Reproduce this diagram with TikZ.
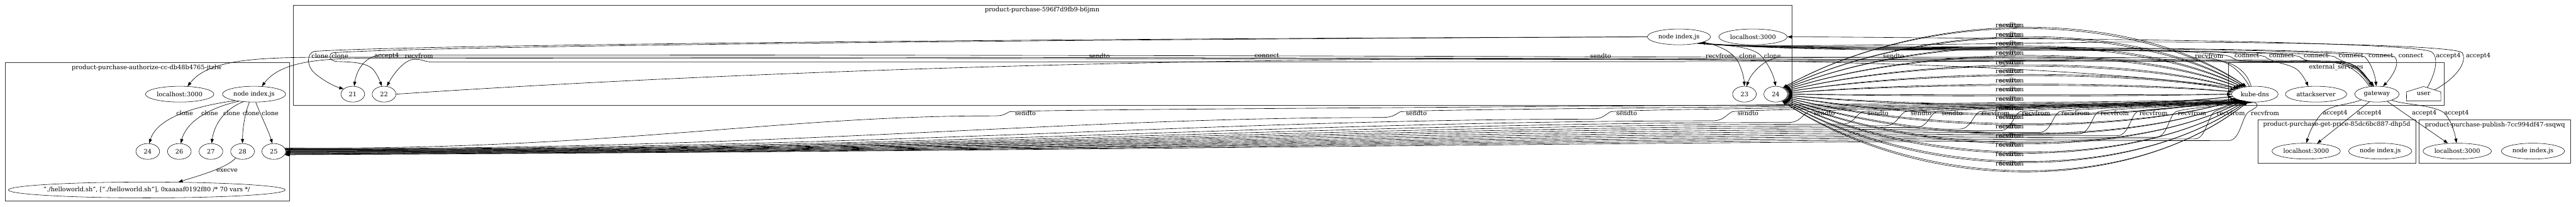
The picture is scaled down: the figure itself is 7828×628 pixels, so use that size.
\documentclass[tikz,border=0pt]{standalone}
\usepackage{fontspec}
\setmainfont{DejaVu Serif}
\usetikzlibrary{arrows.meta,shapes.geometric}
\begin{document}
\begin{tikzpicture}[x=0.75pt,y=-0.75pt,
  every node/.style={font=\fontsize{14}{16}\selectfont},
  ell/.style={draw, ellipse, inner sep=0pt, minimum height=36pt, line width=0.8pt},
  num/.style={ell, minimum width=54pt},
  lbl/.style={inner sep=0pt},
  cl/.style={draw=black!80, line width=1pt},
  fw/.style={-{Triangle[length=10pt,width=7pt]}, line width=0.9pt},
  bw/.style={{Triangle[length=10pt,width=7pt]}-, line width=0.9pt},
  ln/.style={line width=0.9pt}]
\useasboundingbox (0,0) rectangle (7828,628);
\fill[white] (0,0) rectangle (7828,628);
% clusters
\draw[cl] (16,190) rectangle (879,611);
\node[lbl] (tauth) at (446,206) {product-purchase-authorize-cc-db48b4765-jtzlw};
\draw[cl] (891,16) rectangle (5445,320);
\node[lbl] (tmain) at (3167,30) {product-purchase-596f7d9fb9-b6jmn};
\draw[cl] (6771,190) rectangle (7427,320);
\node[lbl] (text) at (7099,205) {external\_services};
\draw[cl] (6862,364) rectangle (7341,495);
\node[lbl] (tgp) at (7101,379) {product-purchase-get-price-85dc6bc887-dhp5d};
\draw[cl] (7351,364) rectangle (7811,495);
\node[lbl] (tpb) at (7582,379) {product-purchase-publish-7cc994df47-ssqwq};
% nodes: authorize
\node[ell, minimum width=156pt] (la_auth) at (546,286) {localhost:3000};
\node[ell, minimum width=144pt] (nij_auth) at (772,286) {node index.js};
\node[num] (a24) at (449,460) {24};
\node[num] (a26) at (545,460) {26};
\node[num] (a27) at (641,460) {27};
\node[num] (a28) at (737,460) {28};
\node[num] (a25) at (832,460) {25};
\node[ell, minimum width=631pt] (hw) at (446,577) {\makebox[400pt]{"./helloworld.sh", ["./helloworld.sh"], 0xaaaaf0192f80 /* 70 vars */}};
% nodes: main
\node[num] (m21) at (1072,286) {21};
\node[num] (m22) at (1167,286) {22};
\node[num] (m23) at (5301,286) {23};
\node[num] (m24) at (5396,286) {24};
\node[ell, minimum width=144pt] (nij_main) at (5102,112) {node index.js};
\node[ell, minimum width=156pt] (la_main) at (5327,112) {localhost:3000};
% nodes: external
\node[ell, minimum width=106pt] (kd) at (6852,286) {kube-dns};
\node[ell, minimum width=140pt] (as) at (7038,286) {attackserver};
\node[ell, minimum width=101pt] (gw) at (7223,286) {gateway};
\node[lbl, minimum width=78pt, minimum height=32.25pt] (u) at (7365,284.5) {user};
\draw[line width=0.8pt] (u.south west) -- (u.south east) -- (7417,279) -- (u.north) -- (7313,279) -- cycle;
\coordinate (uA) at (7376,266.5);
\coordinate (uB) at (7398,273);
% nodes: get-price / publish
\node[ell, minimum width=156pt] (gp_la) at (7008,459) {localhost:3000};
\node[ell, minimum width=144pt] (gp_nij) at (7233,459) {node index.js};
\node[ell, minimum width=156pt] (pb_la) at (7467,459) {localhost:3000};
\node[ell, minimum width=144pt] (pb_nij) at (7697,459) {node index.js};

% authorize clones
\draw[fw] (nij_auth.199) .. controls (620,318) and (480,350) .. (a24.80);
\draw[fw] (nij_auth.205) .. controls (625,330) and (565,375) .. (a26.80);
\draw[fw] (nij_auth.215) .. controls (675,335) and (650,385) .. (a27.85);
\draw[fw] (nij_auth.240) .. controls (745,340) and (737,390) .. (a28.north);
\draw[fw] (nij_auth.282) .. controls (790,345) and (815,395) .. (a25.100);
\draw[fw] (a28.224) .. controls (690,510) and (600,535) .. (hw.14);
\node[lbl] (lc1) at (561,344) {clone};
\node[lbl] (lc2) at (637,344) {clone};
\node[lbl] (lc3) at (704,344) {clone};
\node[lbl] (lc4) at (763,344) {clone};
\node[lbl] (lc5) at (821,344) {clone};
\node[lbl] (lex) at (690,518) {execve};

% main clones
\draw[fw] (nij_main.west) .. controls (3000,118) and (1200,138) .. (955,156) .. controls (932,162) and (930,200) .. (958,224) .. controls (985,246) and (1015,262) .. (m21.150);
\draw[fw] (nij_main.west) .. controls (3000,121) and (1300,141) .. (1012,160) .. controls (998,163) and (998,186) .. (1025,187) .. controls (1070,188) and (1115,190) .. (1135,212) .. controls (1150,232) and (1156,250) .. (m22.105);
\draw[fw] (nij_main.-12) .. controls (5230,140) and (5268,160) .. (5283,190) .. controls (5295,215) and (5300,240) .. (m23.north);
\draw[fw] (nij_main.-20) .. controls (5250,138) and (5320,140) .. (5350,168) .. controls (5375,195) and (5390,230) .. (m24.north);

% long band edges
\draw[fw] (gw.125) .. controls (7195,235) and (7170,192) .. (7110,186) .. controls (6600,176) and (3500,166) .. (1160,167) .. controls (1115,168) and (1085,205) .. (m21.80);
\draw[fw] (gw.130) .. controls (7190,235) and (7160,194) .. (7100,188) .. controls (6500,180) and (3000,172) .. (982,174) .. controls (760,174) and (630,185) .. (la_auth.45);
\draw[fw] (gw.135) .. controls (7185,238) and (7150,196) .. (7090,190) .. controls (6400,182) and (3000,176) .. (1107,177) .. controls (960,178) and (850,190) .. (nij_auth.45);
\draw[fw] (kd.115) .. controls (6830,222) and (6790,182) .. (6720,184) .. controls (6400,188) and (3000,188) .. (1310,188) .. controls (1290,188) and (1282,179) .. (1258,180) .. controls (1228,182) and (1195,225) .. (m22.70);
\draw[fw] (kd.125) .. controls (6815,225) and (6775,178) .. (6700,176) .. controls (6300,174) and (5700,173) .. (5410,174) .. controls (5365,176) and (5322,220) .. (m23.75);
\draw[fw] (m22.east) .. controls (3000,165) and (5800,130) .. (kd.160);
% user
\draw[fw] (uA) .. controls (7405,215) and (7410,170) .. (7388,157) .. controls (7340,136) and (6800,124) .. (6400,120) .. controls (6000,116) and (5600,112) .. (la_main.east);
\draw[fw] (uB) .. controls (7460,240) and (7500,190) .. (7482,160) .. controls (7455,135) and (6800,126) .. (6400,128) .. controls (6000,134) and (5500,140) .. (5300,138) .. controls (5240,137) and (5195,133) .. (nij_main.-15);
% connects
\draw[fw] (nij_main.-18) .. controls (5280,142) and (5500,145) .. (5800,146) .. controls (6300,147) and (6703,150) .. (6778,172) .. controls (6800,190) and (6830,186) .. (6900,186) .. controls (7060,186) and (7140,186) .. (7168,212) .. controls (7186,230) and (7200,247) .. (gw.118);
\draw[fw] (nij_main.-18) .. controls (5280,142) and (5500,147) .. (5800,148) .. controls (6300,149) and (6808,150) .. (6883,172) .. controls (6905,192) and (6960,192) .. (6985,215) .. controls (7000,232) and (7008,248) .. (as.135);
\draw[fw] (nij_main.-18) .. controls (5280,142) and (5500,149) .. (5800,150) .. controls (6300,151) and (6913,152) .. (6988,172) .. controls (7010,190) and (7040,187) .. (7090,187) .. controls (7140,187) and (7160,200) .. (7172,215) .. controls (7188,232) and (7203,248) .. (gw.114);
\draw[fw] (nij_main.-18) .. controls (5280,142) and (5500,151) .. (5800,152) .. controls (6300,153) and (7019,154) .. (7094,172) .. controls (7118,190) and (7145,190) .. (7162,205) .. controls (7182,222) and (7200,245) .. (gw.110);
\draw[fw] (nij_main.-18) .. controls (5280,142) and (5500,143) .. (5800,144) .. controls (6300,145) and (7110,150) .. (7185,172) .. controls (7205,190) and (7218,230) .. (gw.95);
\draw[fw] (nij_main.-18) .. controls (5280,142) and (5500,141) .. (5800,142) .. controls (6300,143) and (7201,150) .. (7276,172) .. controls (7296,190) and (7270,232) .. (gw.52);
% gateway accept4
\draw[fw] (gw.200) .. controls (7140,318) and (7080,318) .. (7055,345) .. controls (7030,372) and (7015,410) .. (gp_la.88);
\draw[fw] (gw.225) -- (gp_la.35);
\draw[fw] (gw.-35) -- (pb_la.140);
\draw[fw] (gw.-22) .. controls (7300,318) and (7400,318) .. (7430,345) .. controls (7450,370) and (7460,405) .. (pb_la.95);
\node[lbl] (ga1) at (7096,344) {accept4};
\node[lbl] (ga2) at (7200,344) {accept4};
\node[lbl] (ga3) at (7367,344) {accept4};
\node[lbl] (ga4) at (7465,344) {accept4};

% band labels
\node[lbl] (b1) at (972,169) {clone};
\node[lbl] (b2) at (1033,169) {clone};
\node[lbl] (b3) at (1175,169) {accept4};
\node[lbl] (b4) at (1273,169) {recvfrom};
\node[lbl] (b5) at (3341,169) {sendto};
\node[lbl] (b6) at (3850,169) {connect};
\node[lbl] (b7) at (4864,169) {sendto};
\node[lbl] (b8) at (5226,169) {recvfrom};
\node[lbl] (b9) at (5311,169) {clone};
\node[lbl] (b10) at (5386,169) {clone};
\node[lbl] (b11) at (5754,169) {sendto};
\node[lbl] (b12) at (6713,169) {recvfrom};
\node[lbl] (b13) at (6828,169) {connect};
\node[lbl] (b14) at (6933,169) {connect};
\node[lbl] (b15) at (7038,169) {connect};
\node[lbl] (b16) at (7144,169) {connect};
\node[lbl] (b17) at (7235,169) {connect};
\node[lbl] (b18) at (7326,169) {connect};
\node[lbl] (b19) at (7440,169) {accept4};
\node[lbl] (b20) at (7531,169) {accept4};

% fan 24 <-> kube-dns
\foreach \j in {0,...,15} {
  \pgfmathsetmacro\yl{76+28*\j}
  \pgfmathsetmacro\ye{\yl+13+3*(\j>6)}
  \pgfmathsetmacro\cy{(\ye-71.5)/0.75}
  \pgfmathsetmacro\cz{\cy+5}
  \pgfmathtruncatemacro\sa{(7-\j)*6}
  \pgfmathtruncatemacro\ea{180-(7-\j)*6}
  \draw[fw] (m24.\sa) .. controls (5850,\cy) and (6480,\cy) .. (kd.\ea);
  \draw[bw] (m24.\sa) .. controls (5850,\cz) and (6480,\cz) .. (kd.\ea);
  \node[lbl] (fr\j) at (6107,\yl) {recvfrom};
  \node[lbl] (fs\j) at (6107,\yl) {sendto};
}

% 25 <-> kube-dns
\foreach \lx [count=\k from 0] in {3116,4304,4943,5312,5544,5707,5838,5932} {
  \pgfmathsetmacro\px{\lx-50}
  \pgfmathsetmacro\qx{\lx-110}
  \pgfmathsetmacro\hk{352+5*\k}
  \pgfmathsetmacro\ca{868+0.45*(\qx-868)}
  \pgfmathsetmacro\cb{\qx-0.3*(\qx-868)}
  \pgfmathtruncatemacro\sa{18-2.4*\k}
  \pgfmathtruncatemacro\ea{198+4.5*\k}
  \pgfmathsetmacro\cc{max(\px+40,6800-0.3*(6800-\px))}
  \draw[fw] (a25.\sa) .. controls (\ca,458) and (\cb,\hk) .. (\qx,\hk) .. controls ({\qx+35},\hk) and ({\px-20},352) .. (\px,340) .. controls ({\px+15},330) and (\cc,322) .. (kd.\ea);
  \node[lbl] (bs\k) at (\lx,344) {sendto};
}
\foreach \lx [count=\k from 8] in {6064,6187,6307,6426,6544,6661,6779,6883} {
  \pgfmathsetmacro\px{\lx-50}
  \pgfmathsetmacro\qx{\lx-110}
  \pgfmathsetmacro\hk{352+5*\k}
  \pgfmathsetmacro\ca{868+0.45*(\qx-868)}
  \pgfmathsetmacro\cb{\qx-0.3*(\qx-868)}
  \pgfmathtruncatemacro\sa{18-2.4*\k}
  \pgfmathtruncatemacro\ea{198+4.5*\k}
  \pgfmathsetmacro\cc{max(\px+40,6800-0.3*(6800-\px))}
  \draw[bw] (a25.\sa) .. controls (\ca,458) and (\cb,\hk) .. (\qx,\hk) .. controls ({\qx+35},\hk) and ({\px-20},352) .. (\px,340) .. controls ({\px+15},330) and (\cc,322) .. (kd.\ea);
  \node[lbl] (br\k) at (\lx,344) {recvfrom};
}
\end{tikzpicture}
\end{document}
